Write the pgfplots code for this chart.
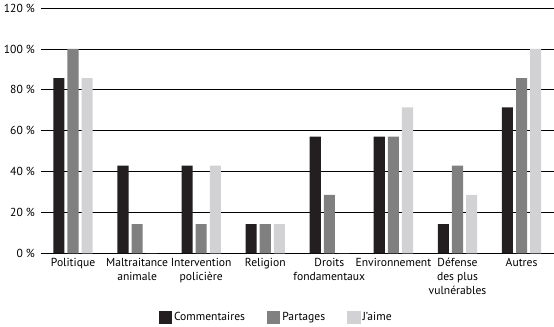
\documentclass[border=0pt]{standalone}
\usepackage{pgfplots}
\pgfplotsset{compat=1.18}
\usepackage{fontspec}
\setmainfont{PT Sans}
\definecolor{cA}{HTML}{231F20}
\definecolor{cB}{HTML}{808080}
\definecolor{cC}{HTML}{D2D2D4}
\begin{document}
\begin{tikzpicture}
\fontsize{11.5}{14}\selectfont
\begin{axis}[
  scale only axis,
  width=508pt, height=243pt,
  ybar=3pt, bar width=11pt,
  xmin=-0.5, xmax=7.5, ymin=0, ymax=120,
  xtick={0,...,7},
  xticklabels={Politique,{Maltraitance\\animale},{Intervention\\policière},Religion,{Droits\\fondamentaux},Environnement,{Défense\\des plus\\vulnérables},Autres},
  xticklabel style={align=center, font=\fontsize{11.5}{14}\selectfont, yshift=-1pt},
  ytick={0,20,...,120},
  yticklabel={\pgfmathprintnumber{\tick}~\%},
  /pgf/number format/assume math mode=true,
  yticklabel style={font=\fontsize{11.5}{14}\selectfont, xshift=-2pt},
  major tick length=0pt,
  axis lines*=left,
  y axis line style={draw=none},
  x axis line style={black, line width=0.8pt},
  ymajorgrids, grid style={black, line width=0.8pt},
  legend columns=3,
  legend style={at={(0.459,-0.225)}, anchor=north, draw=none, font=\fontsize{11.5}{14}\selectfont,
    /tikz/every even column/.append style={column sep=20pt}},
  legend image code/.code={\fill[#1] (0pt,-6pt) rectangle (13pt,7pt);},
]
\addplot[fill=cA, draw=none] coordinates {(0,85.7) (1,42.9) (2,42.9) (3,14.3) (4,57.1) (5,57.1) (6,14.3) (7,71.4)};
\addplot[fill=cB, draw=none] coordinates {(0,100) (1,14.3) (2,14.3) (3,14.3) (4,28.6) (5,57.1) (6,42.9) (7,85.7)};
\addplot[fill=cC, draw=none] coordinates {(0,85.7) (1,0) (2,42.9) (3,14.3) (4,0) (5,71.4) (6,28.6) (7,100)};
\legend{Commentaires,Partages,J'aime}
\end{axis}
\end{tikzpicture}
\end{document}
